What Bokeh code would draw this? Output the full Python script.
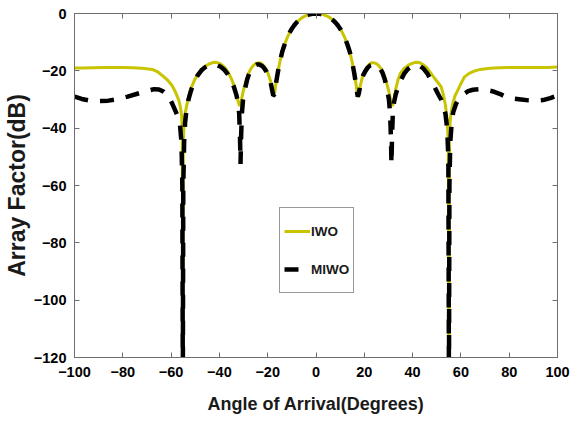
from bokeh.plotting import figure
from bokeh.models import Range1d, LinearAxis, FixedTicker, Legend, LegendItem
from bokeh.embed import file_html
from bokeh.resources import INLINE

# ---------------- data ----------------
iwo_angle = [-100, -96, -92, -88, -84, -80, -76, -72, -67.8, -65.5, -63.7, -61.5, -59.6,
             -58.2, -56.8, -56.1, -55.6, -55.35, -55.15, -54.95, -54.6, -54.1, -53.4,
             -52.6, -51.6, -50.4, -49.0, -47.4, -46.0, -44.5, -43.0, -42.0, -41.0,
             -39.5, -38.0, -36.5, -35.0, -34.0, -33.0, -32.3, -31.7, -31.2, -30.6,
             -30.0, -29.0, -28.0, -27.0, -26.0, -25.0, -24.0, -23.0, -22.0, -21.0,
             -20.0, -19.0, -18.3, -17.8, -17.5, -17.1, -16.6, -16.0, -15.0, -14.0,
             -13.0, -12.0, -11.0, -10.0, -9.0, -8.0, -7.0, -6.0, -5.0, -4.0, -3.0,
             -2.0, -1.0, 0, 1, 2, 3, 4, 5, 6, 7, 8, 9, 10, 11, 12, 13, 14, 15, 16,
             16.6, 17.1, 17.4, 17.8, 18.3, 19, 20, 21, 22, 23, 24, 25, 26, 27, 28, 29,
             30, 30.6, 31.2, 31.7, 32.3, 33, 34, 35, 36.5, 38, 39.5, 41, 42, 43, 44.5,
             46, 47.4, 49, 50.4, 51.8, 52.8, 53.6, 54.3, 54.8, 55.05, 55.25, 55.5,
             55.9, 56.6, 57.6, 58.6, 60, 61.4, 63.4, 65.5, 68, 72, 76, 80, 84, 88, 92,
             96, 100]
iwo_db = [-19.0, -19.0, -18.9, -18.8, -18.8, -18.8, -18.9, -19.1, -19.5, -20.4, -21.6,
          -23.2, -25.1, -27.4, -30.3, -32.8, -36.0, -45.0, -130.0, -45.0, -38.0, -34.5,
          -31.5, -28.5, -25.8, -23.4, -21.3, -19.5, -18.5, -17.7, -17.2, -17.0, -17.1,
          -17.6, -18.6, -20.3, -22.8, -25.0, -28.0, -30.5, -32.2, -31.5, -29.0,
          -26.6, -23.5, -21.0, -19.3, -18.2, -17.5, -17.2, -17.3, -17.9, -19.0,
          -20.6, -23.0, -25.6, -28.0, -28.8, -27.5, -24.5, -21.5, -17.0, -13.4,
          -10.8, -8.6, -6.8, -5.3, -4.1, -3.1, -2.3, -1.6, -1.1, -0.7, -0.4,
          -0.2, -0.05, 0.0, -0.05, -0.2, -0.4, -0.7, -1.1, -1.6, -2.3, -3.1, -4.1,
          -5.3, -6.8, -8.6, -10.8, -13.4, -17.0, -21.6,
          -24.8, -28.0, -29.2, -27.8, -25.4, -22.8, -20.5, -18.9, -17.8, -17.2, -17.2,
          -17.5, -18.2, -19.3, -21.0, -23.5,
          -26.6, -29.0, -31.5, -32.2, -30.2, -26.5, -23.0, -20.8, -19.2, -18.2, -17.5,
          -17.1, -17.0, -17.2, -17.9,
          -19.0, -20.6, -22.5, -24.0, -25.5, -28.5, -32.0, -37.0, -45.0, -130.0, -45.0,
          -38.0, -35.0, -31.5, -28.6, -27.0, -24.5, -22.2, -20.9, -20.1, -19.5, -19.1,
          -18.9, -18.8, -18.8, -18.8, -18.8, -18.8, -18.7]

miwo_angle = [-100, -97, -94, -90, -86, -82, -78, -74, -70, -67, -65, -63, -61, -59.5,
              -58.3, -57.2, -56.3, -55.7, -55.35, -55.15, -54.95, -54.6, -54.2, -53.6,
              -52.8, -51.8, -50.5, -49.0, -47.5, -46.0, -44.5, -43.0, -42.0, -41.0,
              -39.5, -38.0, -36.5, -35.0, -34.0, -33.0, -32.3, -31.8, -31.45, -31.25,
              -31.05, -30.7, -30.2, -29.5, -28.5, -27.5, -26.5, -25.5, -24.5, -23.5,
              -22.5, -21.5, -20.5, -19.5, -18.8, -18.2, -17.7, -17.3, -16.9, -16.4,
              -15.8, -15.0, -14.0, -13.0, -12.0, -11.0, -10.0, -9.0, -8.0, -7.0, -6.0,
              -5.0, -4.0, -3.0, -2.0, -1.0, 0, 1, 2, 3, 4, 5, 6, 7, 8, 9, 10, 11, 12,
              13, 14, 15, 15.8, 16.4, 16.9, 17.3, 17.7, 18.2, 18.8, 19.5, 20.5, 21.5,
              22.5, 23.5, 24.5, 25.5, 26.5, 27.5, 28.5, 29.5, 30.2, 30.7, 31.05, 31.25,
              31.45, 31.8, 32.3, 33, 34, 35, 36.5, 38, 39.5, 41, 42, 43, 44.5, 46, 47.5,
              49, 50.5, 51.8, 52.8, 53.6, 54.3, 54.8, 55.05, 55.25, 55.6, 56.2, 56.8,
              58, 59.5, 61, 63, 65, 67.5, 70, 73, 76, 79, 82, 85, 88, 91, 94, 97, 100]
miwo_db = [-29.0, -29.8, -30.3, -30.5, -30.4, -29.9, -29.0, -28.0, -27.0, -26.4, -26.5,
           -27.3, -29.0, -31.5, -33.8, -36.0, -39.0, -45.0, -60.0, -130.0, -60.0, -45.0,
           -38.0, -33.5, -30.0, -27.0, -24.0, -21.6, -19.9, -18.8, -18.1, -17.8, -17.8,
           -18.0, -18.6, -19.6, -21.2, -23.5, -25.6, -28.3, -31.0, -35.0, -44.0, -52.5,
           -44.0, -35.0, -30.0, -26.8, -23.0, -20.6, -19.0, -18.2, -17.8, -17.8,
           -18.2, -19.0, -20.3, -22.0, -24.0, -26.5, -28.6, -28.4, -26.5, -23.5,
           -20.5, -17.0, -13.4, -10.8, -8.6, -6.8, -5.3, -4.1, -3.1, -2.3, -1.6,
           -1.1, -0.7, -0.4, -0.2, -0.05, 0.0, -0.05, -0.2, -0.4, -0.7, -1.1, -1.6,
           -2.3, -3.1, -4.1, -5.3, -6.8, -8.6,
           -10.8, -13.4, -17.0, -20.6, -23.8, -27.0, -29.0, -28.0, -25.8, -23.5, -21.6,
           -20.0, -18.8, -18.1, -17.8, -17.9, -18.3, -19.1, -20.6, -23.0, -26.8,
           -30.0, -35.0, -44.0, -52.5, -44.0, -35.0, -31.0, -28.3, -25.6, -23.5,
           -21.0, -19.4, -18.5, -18.0, -18.0, -18.3, -19.2, -20.8, -23.0, -25.5,
           -28.0, -30.0, -32.5, -35.0, -40.0, -50.0, -130.0, -60.0, -45.0, -38.0,
           -34.5, -31.5, -29.5, -28.2, -27.1, -26.6, -26.4, -26.6, -27.1, -28.0,
           -29.2, -29.7, -30.0, -30.3, -30.4, -30.2, -29.5, -28.6]

x_ticks = [-100, -80, -60, -40, -20, 0, 20, 40, 60, 80, 100]
y_ticks = [-120, -100, -80, -60, -40, -20, 0]
series_names = ["IWO", "MIWO"]

# ---------------- styles ----------------
FONT = "Liberation Sans"
AXIS_GRAY = "#6e6e6e"
YELLOW = "#c8c400"

p = figure(width=578, height=421, output_backend="svg", toolbar_location=None,
           x_range=Range1d(-100, 100), y_range=Range1d(-120, 0),
           min_border_left=72, min_border_right=21, min_border_top=13,
           min_border_bottom=64, background_fill_color="white",
           border_fill_color="white")
p.xgrid.visible = False
p.ygrid.visible = False
p.outline_line_color = AXIS_GRAY

r_iwo = p.line(iwo_angle, iwo_db, line_color=YELLOW, line_width=3)
r_miwo = p.line(miwo_angle, miwo_db, line_color="black", line_width=4.5,
                line_dash="14 12")

for ax in (p.xaxis[0], p.yaxis[0]):
    ax.axis_line_color = AXIS_GRAY
    ax.major_tick_line_color = AXIS_GRAY
    ax.major_tick_in = 5
    ax.major_tick_out = 0
    ax.minor_tick_line_color = None
    ax.major_label_text_font = FONT
    ax.major_label_text_font_style = "bold"
    ax.major_label_text_font_size = "14.5px"
    ax.major_label_text_color = "black"
    ax.axis_label_text_font = FONT
    ax.axis_label_text_font_style = "bold"
    ax.axis_label_text_color = "#1a1a1a"

p.xaxis[0].ticker = FixedTicker(ticks=x_ticks)
p.yaxis[0].ticker = FixedTicker(ticks=y_ticks)
p.xaxis[0].axis_label = "Angle of Arrival(Degrees)"
p.xaxis[0].axis_label_text_font_size = "18px"
p.xaxis[0].major_label_standoff = 9
p.xaxis[0].axis_label_standoff = 14
p.yaxis[0].axis_label = "Array Factor(dB)"
p.yaxis[0].axis_label_text_font_size = "23px"
p.yaxis[0].major_label_standoff = 8
p.yaxis[0].axis_label_standoff = 1

# box ticks on top and right (drawn as minor ticks, so no labels)
top = LinearAxis(ticker=FixedTicker(ticks=[], minor_ticks=x_ticks))
right = LinearAxis(ticker=FixedTicker(ticks=[], minor_ticks=y_ticks))
for ax in (top, right):
    ax.axis_line_color = AXIS_GRAY
    ax.minor_tick_line_color = AXIS_GRAY
    ax.minor_tick_in = 5
    ax.minor_tick_out = 0
    ax.major_tick_line_color = None
    ax.major_label_standoff = 0
p.add_layout(top, "above")
p.add_layout(right, "right")

legend = Legend(items=[LegendItem(label=series_names[0], renderers=[r_iwo]),
                       LegendItem(label=series_names[1], renderers=[r_miwo])],
                location=(205, 64), orientation="vertical",
                glyph_width=26, glyph_height=38, label_height=38,
                label_standoff=1, spacing=0, padding=4,
                label_text_font=FONT, label_text_font_style="bold",
                label_text_font_size="13.5px", label_text_color="#1a1a1a",
                border_line_color="#333333", border_line_width=1,
                background_fill_color="white", background_fill_alpha=1)
p.add_layout(legend, "center")

open("out.html", "w").write(file_html(p, INLINE))
